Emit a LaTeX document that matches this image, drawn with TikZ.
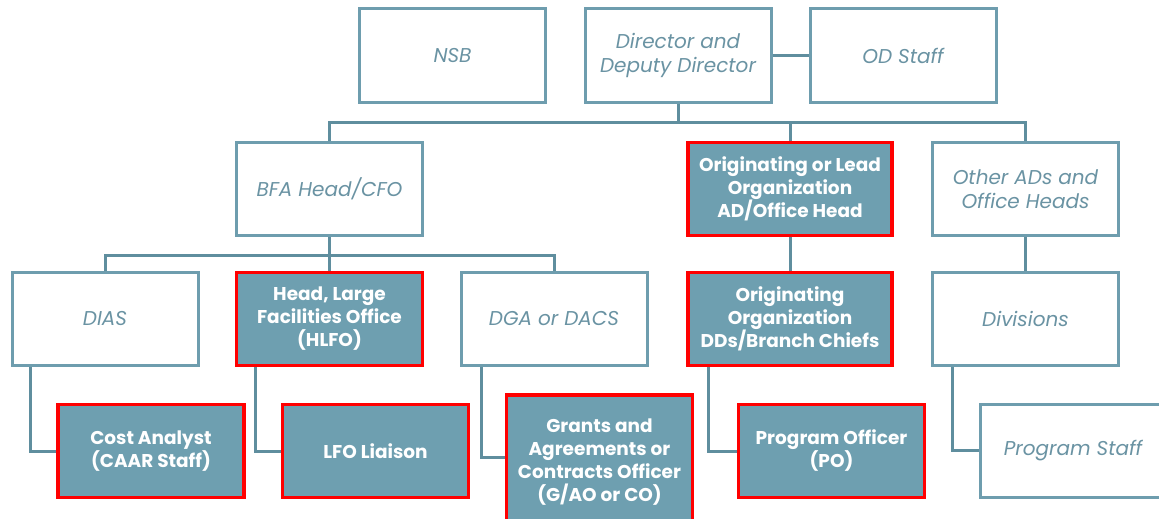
\documentclass[tikz,border=0pt]{standalone}
\usepackage{fontspec}
\setmainfont{Poppins}
\usepackage{tikz}
\usetikzlibrary{positioning}

\definecolor{frame}{HTML}{6E9DAE}
\definecolor{linkcol}{HTML}{5F8E9E}
\definecolor{keyfill}{HTML}{6E9FB0}
\definecolor{softtext}{HTML}{6A93A3}

\tikzset{
  plainbox/.style={draw=frame, line width=3pt, fill=white, minimum width=186pt, minimum height=93pt,
    inner sep=0pt, align=center, text=softtext, font=\fontsize{20}{24}\selectfont\itshape},
  keybox/.style={draw=red, line width=3.5pt, fill=keyfill, minimum width=186pt, minimum height=93pt,
    inner sep=0pt, align=center, text=white, font=\fontsize{18.5}{23}\selectfont\bfseries},
  link/.style={draw=linkcol, line width=3pt}
}

\begin{document}
\begin{tikzpicture}[x=1pt,y=-1pt]
	\useasboundingbox (0,0) rectangle (1159,519);
	% top row
	\node [plainbox] (nsb) at (452.5,55.5) {NSB};
	\node [plainbox] (dir) at (678,55.5) {Director and\\Deputy Director};
	\node [plainbox] (ods) at (903,55.5) {OD Staff};
	% second row
	\node [plainbox] (bfa) at (329.5,189) {BFA Head/CFO};
	\node [keybox, minimum width=204pt] (lead) at (790,189) {Originating or Lead\\Organization\\AD/Office Head};
	\node [plainbox] (oth) at (1025.5,189) {Other ADs and\\Office Heads};
	% third row
	\node [plainbox] (dias) at (105,319) {DIAS};
	\node [keybox] (hlfo) at (329.5,319) {Head, Large\\Facilities Office\\(HLFO)};
	\node [plainbox] (dga) at (554,319) {DGA or DACS};
	\node [keybox, minimum width=204pt] (dds) at (790,319) {Originating\\Organization\\DDs/Branch Chiefs};
	\node [plainbox] (divs) at (1025.5,319) {Divisions};
	% bottom row
	\node [keybox] (cost) at (151,451) {Cost Analyst\\(CAAR Staff)};
	\node [keybox] (lfo) at (375.5,451) {LFO Liaison};
	\node [keybox, minimum height=134pt] (gao) at (599.5,462) {Grants and\\Agreements or\\Contracts Officer\\(G/AO or CO)};
	\node [keybox] (po) at (831.5,451) {Program Officer\\(PO)};
	\node [plainbox, minimum width=204pt] (pst) at (1082,450.5) {\hspace*{-18pt}Program Staff};

	% connectors
	\coordinate (bus) at (678,122);
	\coordinate (bfabus) at (329.5,255);
	\draw [link] (dir.east) -- (ods.west);
	\draw [link] (dir.south) -- (bus);
	\draw [link] (bfa.north) |- (bus) -| (oth.north);
	\draw [link] (lead.north) -- (lead.north |- bus);
	\draw [link] (bfa.south) -- (hlfo.north);
	\draw [link] (dias.north) |- (bfabus) -| (dga.north);
	\draw [link] (lead.south) -- (dds.north);
	\draw [link] (oth.south) -- (divs.north);
	\draw [link] ([xshift=-75pt]dias.south) |- (cost.west);
	\draw [link] ([xshift=-74pt]hlfo.south) |- (lfo.west);
	\draw [link] ([xshift=-73pt]dga.south) |- ([yshift=5pt]gao.west);
	\draw [link] ([xshift=-82pt]dds.south) |- (po.west);
	\draw [link] ([xshift=-73pt]divs.south) |- (pst.west);
\end{tikzpicture}
\end{document}
